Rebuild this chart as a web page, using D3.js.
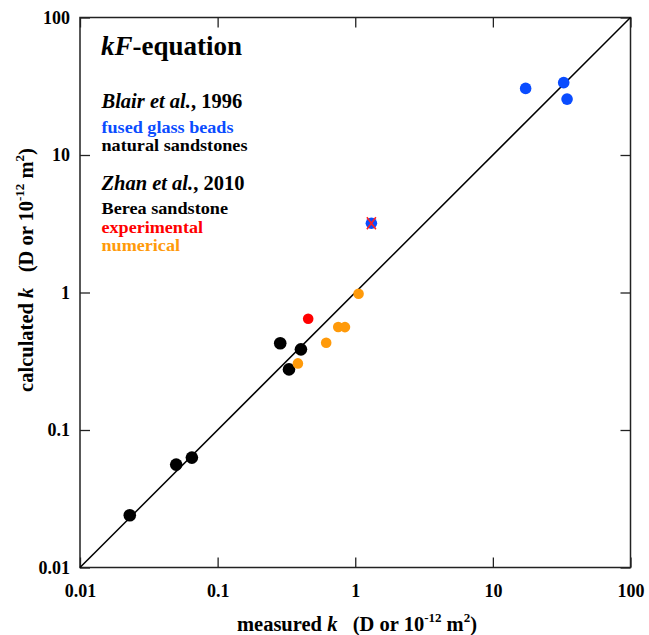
<!DOCTYPE html>
<html>
<head>
<meta charset="utf-8">
<script src="https://cdn.jsdelivr.net/npm/d3@7"></script>
<style>
  html, body { margin: 0; padding: 0; background: #fff; }
  svg { display: block; }
  text { font-family: "Liberation Serif", "Times New Roman", serif; font-weight: bold; }
</style>
</head>
<body>
<svg id="chart" width="649" height="635"></svg>
<script>
// ---- data ----
const tickValues = [0.01, 0.1, 1, 10, 100];
const tickLabels = ["0.01", "0.1", "1", "10", "100"];

const sandstonesMeasured = [0.023, 0.050, 0.065, 0.285, 0.403, 0.330];
const sandstonesCalculated = [0.024, 0.056, 0.063, 0.427, 0.386, 0.276];

const beadsMeasured = [17.3, 32.7, 34.6, 1.31];
const beadsCalculated = [30.5, 33.6, 25.5, 3.19];

const experimentalMeasured = [0.455];
const experimentalCalculated = [0.645];

const numericalMeasured = [1.057, 0.752, 0.842, 0.615, 0.383];
const numericalCalculated = [0.98, 0.561, 0.56, 0.431, 0.305];

const crossedMeasured = [1.31];
const crossedCalculated = [3.19];

const legendLabels = ["fused glass beads", "natural sandstones", "Berea sandstone", "experimental", "numerical"];
const legendColors = ["#0a4cff", "#000000", "#000000", "#ff0000", "#ff9a0a"];

// ---- layout ----
const svg = d3.select("#chart");
const L = 80, R = 630.5, T = 17.5, B = 567.5;
const x = d3.scaleLog().domain([0.01, 100]).range([L, R]);
const y = d3.scaleLog().domain([0.01, 100]).range([B, T]);

const fmt = (d) => tickLabels[tickValues.indexOf(d)];
const tickLen = 10;

// axes (ticks inward, all four sides)
const gx = svg.append("g").attr("transform", `translate(0,${B})`)
  .call(d3.axisBottom(x).tickValues(tickValues).tickFormat(fmt).tickSizeInner(-tickLen).tickSizeOuter(0).tickPadding(17));
const gxTop = svg.append("g").attr("transform", `translate(0,${T})`)
  .call(d3.axisTop(x).tickValues(tickValues).tickFormat("").tickSizeInner(-tickLen).tickSizeOuter(0));
const gy = svg.append("g").attr("transform", `translate(${L},0)`)
  .call(d3.axisLeft(y).tickValues(tickValues).tickFormat(fmt).tickSizeInner(-tickLen).tickSizeOuter(0).tickPadding(10));
const gyR = svg.append("g").attr("transform", `translate(${R},0)`)
  .call(d3.axisRight(y).tickValues(tickValues).tickFormat("").tickSizeInner(-tickLen).tickSizeOuter(0));

[gx, gxTop, gy, gyR].forEach(g => {
  g.select(".domain").remove();
  g.selectAll("line").attr("stroke", "#222").attr("stroke-width", 1.3);
  g.selectAll("text").attr("font-size", 18).attr("fill", "#000")
    .attr("font-family", "'Liberation Serif', serif").attr("font-weight", "bold");
});
gx.selectAll("text").attr("dy", "0.71em");

// frame
svg.append("rect").attr("x", L).attr("y", T).attr("width", R - L).attr("height", B - T)
  .attr("fill", "none").attr("stroke", "#222").attr("stroke-width", 1.5);

// 1:1 line
svg.append("line")
  .attr("x1", x(0.01)).attr("y1", y(0.01)).attr("x2", x(100)).attr("y2", y(100))
  .attr("stroke", "#000").attr("stroke-width", 1.5);

// points
function drawPoints(mx, my, color, r) {
  svg.append("g").selectAll("circle").data(mx.map((v, i) => [v, my[i]])).join("circle")
    .attr("cx", d => x(d[0])).attr("cy", d => y(d[1])).attr("r", r).attr("fill", color);
}
drawPoints(sandstonesMeasured, sandstonesCalculated, "#000", 6.3);
drawPoints(beadsMeasured, beadsCalculated, "#0a4cff", 5.8);
drawPoints(experimentalMeasured, experimentalCalculated, "#ff0000", 5.3);
drawPoints(numericalMeasured, numericalCalculated, "#ff9a0a", 5.3);

// red cross
const cross = svg.append("g").selectAll("g").data(crossedMeasured.map((v, i) => [v, crossedCalculated[i]])).join("g")
  .attr("transform", d => `translate(${x(d[0])},${y(d[1])})`);
cross.append("path").attr("d", "M-4.5,-6L4.5,6M-4.5,6L4.5,-6")
  .attr("stroke", "#ff2020").attr("stroke-width", 1.6).attr("fill", "none");

// title & legend texts
const title = svg.append("text").attr("x", 101).attr("y", 55).attr("font-size", 27);
title.append("tspan").attr("font-style", "italic").text("kF");
title.append("tspan").text("-equation");

const blair = svg.append("text").attr("x", 101.5).attr("y", 107.5).attr("font-size", 20.5);
blair.append("tspan").attr("font-style", "italic").text("Blair et al.");
blair.append("tspan").text(", 1996");

const zhan = svg.append("text").attr("x", 101.5).attr("y", 190).attr("font-size", 20.5);
zhan.append("tspan").attr("font-style", "italic").text("Zhan et al.");
zhan.append("tspan").text(", 2010");

const legendBaselines = [132.5, 150.5, 214, 232.5, 250.5];
const legendWidths = [132, 146, 126.5, 101.5, 78.5];
legendLabels.forEach((lab, i) => {
  svg.append("text").attr("x", 101.5).attr("y", legendBaselines[i])
    .attr("font-size", 16.2).attr("fill", legendColors[i])
    .attr("textLength", legendWidths[i]).attr("lengthAdjust", "spacingAndGlyphs")
    .text(lab);
});

// axis titles
function axisTitle(sel, word) {
  sel.append("tspan").text(word + " ");
  sel.append("tspan").attr("font-style", "italic").text("k");
  sel.append("tspan").text("\u00A0\u00A0\u00A0(D or 10");
  sel.append("tspan").attr("font-size", 13).attr("dy", -9).text("-12");
  sel.append("tspan").attr("dy", 9).text(" m");
  sel.append("tspan").attr("font-size", 13).attr("dy", -9).text("2");
  sel.append("tspan").attr("dy", 9).text(")");
}
const xt = svg.append("text").attr("x", 357).attr("y", 631).attr("font-size", 20.5).attr("text-anchor", "middle");
axisTitle(xt, "measured");
const yt = svg.append("text").attr("transform", `translate(33,270) rotate(-90)`).attr("font-size", 20.5).attr("text-anchor", "middle");
axisTitle(yt, "calculated");
</script>
</body>
</html>
